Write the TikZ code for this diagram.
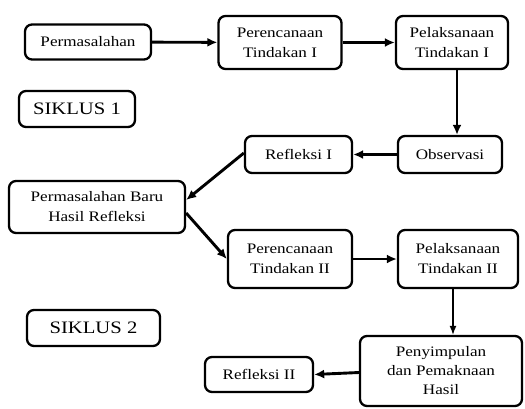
\documentclass[tikz,border=0pt]{standalone}
\usepackage{fontspec}
\setmainfont{Liberation Serif}[FakeStretch=1.18]
\usetikzlibrary{arrows.meta}
\begin{document}
\begin{tikzpicture}[x=1pt,y=-1pt,
  box/.style={draw, line width=2.3pt, rounded corners=7pt, align=center, inner sep=0pt,
    font=\fontsize{14.5}{20}\selectfont},
  bigbox/.style={box, font=\fontsize{17.5}{22}\selectfont},
  arr/.style={line width=2.9pt, -{Latex[length=10pt,width=9pt]}},
  thinarr/.style={line width=1.3pt, -{Latex[length=9pt,width=7pt]}}
]
\useasboundingbox (0,0) rectangle (525,408);
\node[box, minimum width=126pt, minimum height=35pt] (perm) at (88,42) {Permasalahan};
\node[box, minimum width=123pt, minimum height=53pt] (pr1) at (280,42.5) {Perencanaan\\Tindakan I};
\node[box, minimum width=112pt, minimum height=53pt] (pl1) at (452,42.5) {Pelaksanaan\\Tindakan I};
\node[bigbox, minimum width=116pt, minimum height=36pt] (s1) at (77,109) {SIKLUS 1};
\node[box, minimum width=104pt, minimum height=37pt] (obs) at (450,154.5) {Observasi};
\node[box, minimum width=107pt, minimum height=37pt] (ref1) at (298.5,154.5) {Refleksi I};
\node[box, minimum width=176pt, minimum height=52pt] (baru) at (97,207) {Permasalahan Baru\\Hasil Refleksi};
\node[box, minimum width=124pt, minimum height=58pt] (pr2) at (290,259) {Perencanaan\\Tindakan II};
\node[box, minimum width=120pt, minimum height=58pt] (pl2) at (458,259) {Pelaksanaan\\Tindakan II};
\node[bigbox, minimum width=133pt, minimum height=36pt] (s2) at (93.5,328) {SIKLUS 2};
\node[box, minimum width=108pt, minimum height=35pt] (ref2) at (259,374.5) {Refleksi II};
\node[box, minimum width=162pt, minimum height=70pt, font=\fontsize{14.5}{19}\selectfont] (peny) at (441,371) {Penyimpulan\\dan Pemaknaan\\Hasil};
\draw[arr] (perm) -- (pr1);
\draw[arr] (pr1) -- (pl1);
\draw[arr] ([xshift=5pt]pl1.south) -- ([xshift=7pt]obs.north);
\draw[arr] (obs) -- (ref1);
\draw[arr] ([yshift=1.5pt]ref1.west) -- ([yshift=7pt]baru.east);
\draw[arr] ([yshift=-6pt]baru.east) -- (pr2.west);
\draw[arr] (pr2) -- (pl2);
\draw[thinarr] ([xshift=-5pt]pl2.south) -- ([xshift=12pt]peny.north);
\draw[arr] ([yshift=-1.5pt]peny.west) -- (ref2.east);
\end{tikzpicture}
\end{document}
